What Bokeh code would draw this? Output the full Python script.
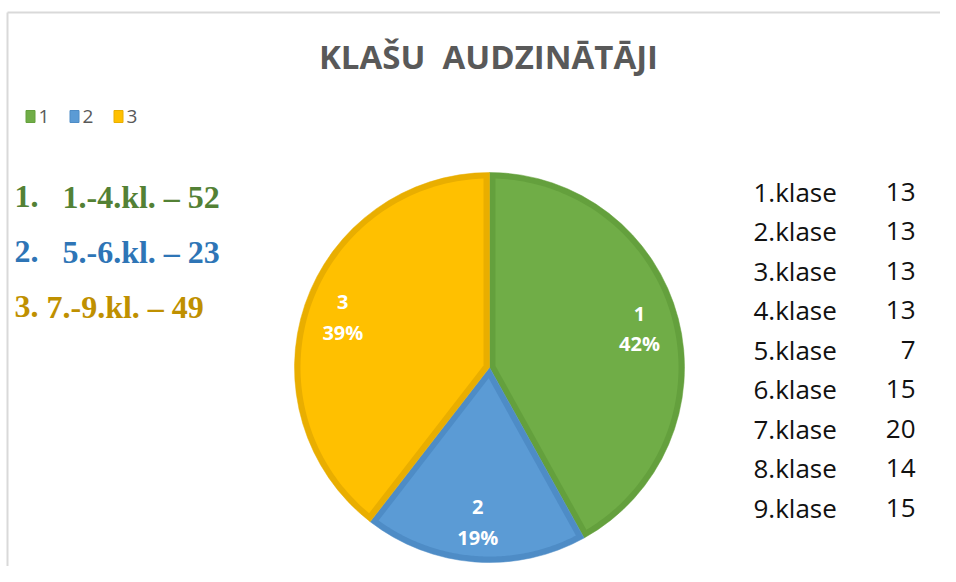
import math
from bokeh.plotting import figure
from bokeh.models import Range1d
from bokeh.core.properties import value
from bokeh.embed import file_html
from bokeh.resources import INLINE

# ---------------- data ----------------
title_text = "KLAŠU\u00a0 AUDZINĀTĀJI"
groups = ["1", "2", "3"]
group_counts = [52, 23, 49]
group_pct_labels = ["42%", "19%", "39%"]
list_numbers = ["1.", "2.", "3."]
list_texts = ["1.-4.kl. – 52", "5.-6.kl. – 23", "7.-9.kl. – 49"]
classes = ["1.klase", "2.klase", "3.klase", "4.klase", "5.klase",
           "6.klase", "7.klase", "8.klase", "9.klase"]
class_counts = [13, 13, 13, 13, 7, 15, 20, 14, 15]

# ---------------- style ----------------
fill_colors = ["#70AD47", "#5B9BD5", "#FFC000"]
edge_colors = ["#64A03D", "#4E8CC6", "#E9AE00"]
list_colors = ["#538135", "#2E75B6", "#BF9000"]
grey = "#595959"

W, H = 940, 566


def X(rx):
    return rx


def Y(ry):
    return H - ry


p = figure(width=W, height=H, x_range=Range1d(0, W), y_range=Range1d(0, H),
           output_backend="svg", toolbar_location=None,
           x_axis_type=None, y_axis_type=None, min_border=0)
p.grid.visible = False
p.outline_line_color = None
p.background_fill_color = "white"

# chart frame (light grey border, top and left)
p.segment(x0=[X(7), X(7)], y0=[Y(12), Y(12)], x1=[X(7), X(960)], y1=[Y(600), Y(12)],
          line_color="#D9D9D9", line_width=2)

# title
p.text(x=[X(488)], y=[Y(56)], text=[title_text], text_font=value("Open Sans"),
       text_font_style="bold", text_font_size="33px", text_color=grey,
       text_align="center", text_baseline="middle")

# legend
leg_x = [25, 69, 113]
for i, g in enumerate(groups):
    p.rect(x=[X(leg_x[i] + 5)], y=[Y(116)], width=9, height=12,
           fill_color=fill_colors[i], line_color=edge_colors[i], line_width=1)
    p.text(x=[X(leg_x[i] + 13)], y=[Y(116)], text=[g], text_font=value("Open Sans"),
           text_font_size="19px", text_color=grey, text_align="left",
           text_baseline="middle")

# left list
list_y = [196, 251, 306]
list_x = [62, 62, 46]
for i in range(3):
    p.text(x=[X(14)], y=[Y(list_y[i])], text=[list_numbers[i]],
           text_font=value("Liberation Serif"), text_font_style="bold",
           text_font_size="32px", text_color=list_colors[i],
           text_align="left", text_baseline="middle")
    p.text(x=[X(list_x[i])], y=[Y(list_y[i])], text=[list_texts[i]],
           text_font=value("Liberation Serif"), text_font_style="bold",
           text_font_size="32px", text_color=list_colors[i],
           text_align="left", text_baseline="middle")

# pie
cx, cy = X(489), Y(367)
R = 195.0
d = 6.0
total = float(sum(group_counts))
cum = 0.0
for i, v in enumerate(group_counts):
    f0 = cum / total
    cum += v
    f1 = cum / total
    a_start = math.pi / 2 - 2 * math.pi * f0
    a_end = math.pi / 2 - 2 * math.pi * f1
    # outer band (edge colour)
    p.wedge(x=[cx], y=[cy], radius=R, start_angle=a_end, end_angle=a_start,
            fill_color=edge_colors[i], line_color=edge_colors[i], line_width=0.5)
    # inner fill (inset polygon)
    theta = a_start - a_end
    mid = (a_start + a_end) / 2
    apex_r = d / math.sin(theta / 2)
    xs = [cx + apex_r * math.cos(mid)]
    ys = [cy + apex_r * math.sin(mid)]
    r_in = R - d
    delta = math.asin(d / r_in)
    n = 120
    b0 = a_start - delta
    b1 = a_end + delta
    for k in range(n + 1):
        a = b0 + (b1 - b0) * k / n
        xs.append(cx + r_in * math.cos(a))
        ys.append(cy + r_in * math.sin(a))
    p.patch(x=xs, y=ys, fill_color=fill_colors[i], line_color=None)
    # labels
    lr = 155
    lx = cx + lr * math.cos(mid)
    ly = cy + lr * math.sin(mid)
    p.text(x=[lx], y=[ly + 15], text=[groups[i]], text_font=value("Open Sans"),
           text_font_style="bold", text_font_size="20px", text_color="white",
           text_align="center", text_baseline="middle")
    p.text(x=[lx], y=[ly - 15], text=[group_pct_labels[i]], text_font=value("Open Sans"),
           text_font_style="bold", text_font_size="20px", text_color="white",
           text_align="center", text_baseline="middle")

# right table
for i, (c, n_) in enumerate(zip(classes, class_counts)):
    ry = 191 + 39.5 * i
    p.text(x=[X(753)], y=[Y(ry)], text=[c], text_font=value("Open Sans"),
           text_font_size="26px", text_color="#111111", text_align="left",
           text_baseline="middle")
    p.text(x=[X(915)], y=[Y(ry)], text=[str(n_)], text_font=value("Open Sans"),
           text_font_size="26px", text_color="#111111", text_align="right",
           text_baseline="middle")

open("out.html", "w").write(file_html(p, INLINE))
